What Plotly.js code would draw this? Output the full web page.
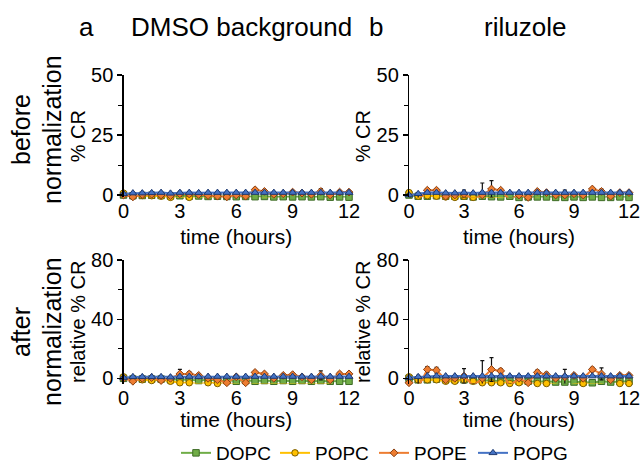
<!DOCTYPE html>
<html>
<head>
<meta charset="utf-8">
<script src="https://cdn.plot.ly/plotly-3.0.1.min.js"></script>
<style>html,body{margin:0;padding:0;background:#fff;}#chart{width:641px;height:465px;}</style>
</head>
<body>
<div id="chart"></div>
<script>
// ---- data ----
var time = [0,0.5,1,1.5,2,2.5,3,3.5,4,4.5,5,5.5,6,6.5,7,7.5,8,8.5,9,9.5,10,10.5,11,11.5,12];
var lipids = ["DOPC","POPC","POPE","POPG"];
var xTicks = [0,3,6,9,12];

// (a) DMSO background, before normalization (% CR)
var dmsoBefore_DOPC = [0,-0.3,-0.2,-0.1,-0.2,-0.4,-0.3,-0.5,-0.4,-0.6,-0.5,-0.6,-0.7,-0.6,-0.7,-0.6,-0.8,-0.7,-0.8,-0.7,-0.8,-0.7,-0.9,-0.8,-0.9];
var dmsoBefore_POPC = [0.8,-0.3,-0.2,-0.3,-0.5,-1.0,-1.3,-1.0,-1.5,-1.2,-1.3,-1.6,-1.8,-1.4,-1.8,-1.5,-1.6,-1.7,-1.5,-1.8,-1.6,-1.8,-1.4,-2.2,-2.0];
var dmsoBefore_POPE = [0,-0.8,0.2,0.3,0,-0.3,0.5,0.4,0.2,-0.2,-0.5,-0.8,0,-0.5,2.2,1.5,0.3,0.5,1.2,0.8,0.3,1.5,0,1.2,1.2];
var dmsoBefore_POPG = [0.5,0.8,0.8,0.9,1.0,0.7,1.0,1.0,0.9,1.0,1.0,1.0,1.0,1.0,1.0,1.0,1.0,1.0,1.0,1.0,1.0,1.0,1.0,1.0,1.0];
var dmsoBefore_err = [0.3,1.5,0.5,0.5,0.4,0.4,1.0,0.8,0.5,0.4,0.5,0.4,0.5,0.4,0.6,0.5,0.4,0.5,0.5,0.4,0.5,1.2,0.5,0.5,0.5];

// (b) riluzole, before normalization (% CR)
var rilBefore_DOPC = [0,-0.5,-0.5,-0.3,-0.5,-0.5,-0.5,-0.8,-0.5,-0.7,-0.8,-0.5,-1.0,-0.8,-0.8,-0.8,-1.0,-1.0,-0.8,-1.0,-0.8,-1.0,-1.0,-0.8,-1.0];
var rilBefore_POPC = [1.0,-0.5,-0.3,-0.5,-0.8,-1.0,-0.5,-1.0,-1.3,-1.2,-1.2,-1.8,-1.5,-2.0,-1.5,-1.8,-1.8,-3.0,-2.0,-1.8,-2.0,-1.8,-3.0,-1.8,-1.8];
var rilBefore_POPE = [-1.5,-2.0,2.0,2.0,-0.5,0,0.5,-2.0,0,2.5,2.0,-2.0,0,-1.0,1.5,1.0,0,0,0.5,0,2.5,1.5,-0.5,1.0,1.0];
var rilBefore_POPG = [0,0.5,1.0,1.0,0.8,0.8,1.0,0.8,1.0,1.0,1.0,1.0,1.0,1.0,1.0,1.0,1.0,1.0,1.0,1.0,1.0,1.0,1.0,1.0,1.0];
var rilBefore_err = [0.5,2.0,0.6,0.6,0.5,0.5,1.5,0.6,5.0,3.5,0.6,0.6,0.5,0.6,0.6,0.6,0.5,2.0,0.5,0.5,0.6,1.0,0.5,0.5,0.5];

// (a) DMSO background, after normalization (relative % CR)
var dmsoAfter_DOPC = [0,-0.5,-0.5,-0.5,-0.5,-1.0,-1.0,-1.0,-1.5,-1.0,-1.5,-1.5,-2.0,-1.5,-2.0,-1.5,-2.0,-1.5,-2.0,-1.5,-2.0,-1.5,-2.0,-2.0,-2.0];
var dmsoAfter_POPC = [1.0,-1.0,-1.0,-1.5,-1.0,-2.0,-3.0,-3.0,-4.0,-3.0,-3.5,-4.0,-4.5,-4.5,-4.0,-4.0,-4.5,-4.0,-4.5,-4.0,-4.5,-4.0,-4.0,-5.5,-5.0];
var dmsoAfter_POPE = [0,-2.0,0,0.5,-1.5,0,3.0,3.0,2.0,0,-1.0,-3.0,1.0,-3.0,4.0,3.0,0,2.0,2.5,1.0,-1.0,2.0,-1.0,3.0,3.0];
var dmsoAfter_POPG = [0.5,1.0,1.0,1.0,1.0,0.8,1.2,1.2,1.0,1.2,1.2,1.2,1.2,1.2,1.2,1.2,1.2,1.2,1.2,1.2,1.2,1.2,1.2,1.2,1.2];
var dmsoAfter_err = [0.5,3.5,1.0,1.0,0.8,0.8,3.0,1.5,1.0,0.8,0.8,0.8,1.0,0.8,1.0,0.8,0.8,1.0,1.0,0.8,1.0,3.0,1.0,1.0,1.0];

// (b) riluzole, after normalization (relative % CR)
var rilAfter_DOPC = [0,-1.0,-1.0,-0.5,-1.0,-1.0,-1.0,-1.5,-1.5,-1.5,-2.0,-1.5,-2.0,-2.0,-2.0,-2.0,-2.5,-2.5,-2.5,-2.5,-3.0,-2.0,-2.5,-2.0,-2.0];
var rilAfter_POPC = [1.0,-1.0,-1.0,-1.0,-2.0,-2.0,-1.0,-2.0,-3.0,-3.0,-3.0,-3.5,-3.0,-4.0,-3.5,-3.5,-4.0,-6.0,-4.0,-3.5,-4.0,-4.0,-6.0,-3.5,-3.5];
var rilAfter_POPE = [-3.0,-6.0,6.0,5.5,-1.0,0,1.5,-5.0,0,6.0,5.0,-5.0,0,-3.0,4.0,2.5,0,1.0,2.0,0,6.0,3.0,-1.0,2.0,2.0];
var rilAfter_POPG = [0.5,1.0,1.5,1.5,1.5,1.5,1.5,1.5,1.5,1.5,1.5,1.5,1.5,1.5,1.5,1.5,1.5,1.5,1.5,1.5,1.5,1.5,1.5,1.5,1.5];
var rilAfter_err = [1.0,8.0,2.0,2.0,1.0,1.0,5.0,1.5,12.0,8.0,1.5,1.5,1.0,1.5,1.5,1.5,1.0,5.0,1.0,1.0,1.5,4.0,1.0,1.0,1.0];

// ---- styling ----
var FONT = "Liberation Sans, Arial, sans-serif";
var colors = {DOPC:"#70ad47", POPC:"#ffc000", POPE:"#ed7d31", POPG:"#4472c4"};
var edges = {DOPC:"#3d6b25", POPC:"#7a5c00", POPE:"#8a3f10", POPG:"#1f3a70"};
var symbols = {DOPC:"square", POPC:"circle", POPE:"diamond", POPG:"triangle-up"};
var sizes = {DOPC:6.5, POPC:6.5, POPE:6, POPG:7};

var panels = [
  {xa:"x",  ya:"y",  data:[dmsoBefore_DOPC,dmsoBefore_POPC,dmsoBefore_POPE,dmsoBefore_POPG], err:dmsoBefore_err, legend:true},
  {xa:"x2", ya:"y2", data:[rilBefore_DOPC,rilBefore_POPC,rilBefore_POPE,rilBefore_POPG], err:rilBefore_err, legend:false},
  {xa:"x3", ya:"y3", data:[dmsoAfter_DOPC,dmsoAfter_POPC,dmsoAfter_POPE,dmsoAfter_POPG], err:dmsoAfter_err, legend:false},
  {xa:"x4", ya:"y4", data:[rilAfter_DOPC,rilAfter_POPC,rilAfter_POPE,rilAfter_POPG], err:rilAfter_err, legend:false}
];

var traces = [];
panels.forEach(function(p){
  lipids.forEach(function(name, i){
    var t = {
      x: time, y: p.data[i], xaxis: p.xa, yaxis: p.ya,
      type: "scatter", mode: "lines+markers", name: name,
      legendgroup: name, showlegend: p.legend, cliponaxis: false,
      line: {color: colors[name], width: 2},
      marker: {symbol: symbols[name], size: sizes[name], color: colors[name], line: {color: edges[name], width: 1}}
    };
    if (name === "POPE") {
      t.error_y = {type: "data", array: p.err, visible: true, color: "#111", thickness: 1.2, width: 2};
    }
    traces.push(t);
  });
});

function xaxis(domain, anchor, standoff){
  return {domain: domain, anchor: anchor, range: [0,12], tickvals: xTicks, ticktext: xTicks.map(String),
    showline: false, showgrid: false, zeroline: false, ticks: "", ticklabeloverflow: "allow", automargin: false,
    tickfont: {family: FONT, size: 20, color: "#000"},
    title: {text: "time (hours)", font: {family: FONT, size: 21, color: "#000"}, standoff: standoff}};
}
function yaxis(domain, anchor, range, dtick, title){
  return {domain: domain, anchor: anchor, range: range, tick0: 0, dtick: dtick, automargin: false,
    showline: true, linecolor: "#000", linewidth: 1.2, showgrid: false, zeroline: false,
    ticks: "outside", ticklen: 5, tickcolor: "#000", tickwidth: 1.2,
    minor: {dtick: dtick/2, tick0: 0, ticks: "outside", ticklen: 4, tickcolor: "#000", tickwidth: 1},
    tickfont: {family: FONT, size: 20, color: "#000"},
    title: {text: title, font: {family: FONT, size: 20, color: "#000"}, standoff: 0}};
}

var xL = [123.5/641, 349/641], xR = [409/641, 629/641];
var yT = [(465-197.4)/465, (465-75)/465], yB = [(465-383.5)/465, (465-260)/465];

var colFont = {family: FONT, size: 26, color: "#000"};
var rowFont = {family: FONT, size: 25, color: "#000"};
function ann(text, px, py, font, angle){
  return {text: text, x: px/641, y: 1-py/465, xref: "paper", yref: "paper", showarrow: false,
    font: font, textangle: angle || 0, xanchor: "center", yanchor: "middle"};
}
var layout = {
  width: 641, height: 465, margin: {l:0, r:0, t:0, b:0, autoexpand: false},
  paper_bgcolor: "#fff", plot_bgcolor: "#fff", showlegend: true,
  xaxis: xaxis(xL, "y", 7), yaxis: yaxis(yT, "x", [-1,50], 25, "% CR"),
  xaxis2: xaxis(xR, "y2", 7), yaxis2: yaxis(yT, "x2", [-1,50], 25, "% CR"),
  xaxis3: xaxis(xL, "y3", 4), yaxis3: yaxis(yB, "x3", [-3.5,80], 40, "relative % CR"),
  xaxis4: xaxis(xR, "y4", 4), yaxis4: yaxis(yB, "x4", [-3.5,80], 40, "relative % CR"),
  legend: {orientation: "h", x: 176/641, y: 12/465, xanchor: "left", yanchor: "middle",
    font: {family: FONT, size: 19, color: "#000"}, bgcolor: "rgba(0,0,0,0)",
    entrywidth: 54, entrywidthmode: "pixels", itemwidth: 30, tracegroupgap: 0},
  annotations: [
    ann("a", 86, 27, colFont),
    ann("DMSO background", 241, 27, colFont),
    ann("b", 376, 27, colFont),
    ann("riluzole", 525, 27, colFont),
    ann("before", 21, 130, rowFont, -90),
    ann("normalization", 52, 130, rowFont, -90),
    ann("after", 21, 332, rowFont, -90),
    ann("normalization", 52, 332, rowFont, -90)
  ]
};

Plotly.newPlot("chart", traces, layout, {displayModeBar: false, staticPlot: true});
</script>
</body>
</html>
